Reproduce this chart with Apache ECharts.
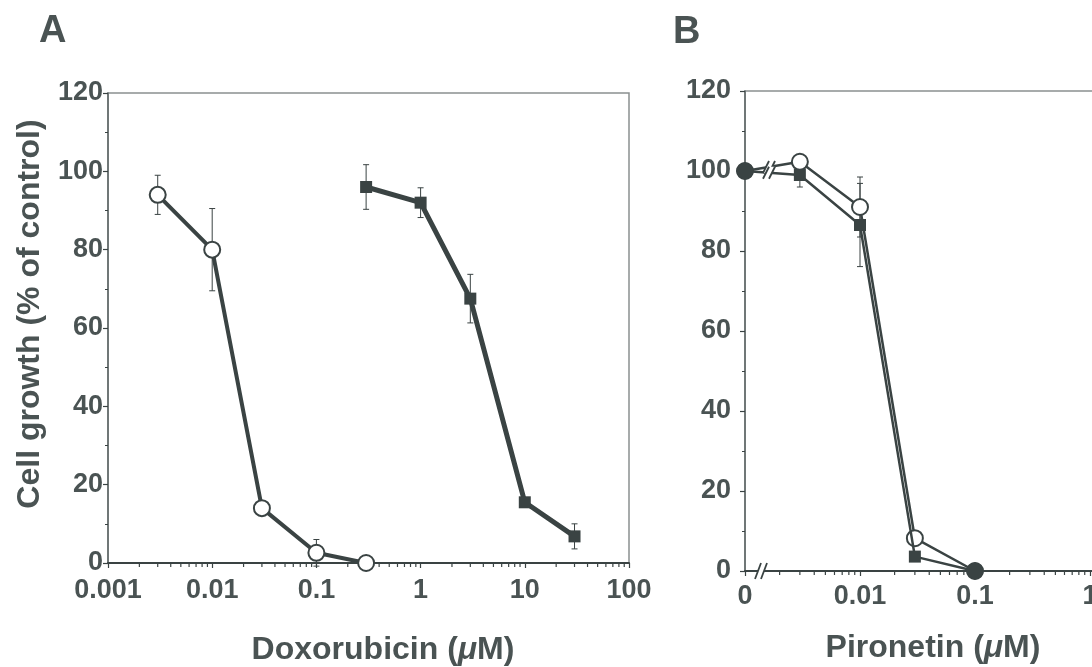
<!DOCTYPE html>
<html><head><meta charset="utf-8">
<script src="https://cdn.jsdelivr.net/npm/echarts@6/dist/echarts.min.js"></script>
<style>html,body{margin:0;padding:0;background:#fff}#c{width:1092px;height:667px}</style>
</head><body><div id="c"></div>
<script>
// ---- Panel A: Doxorubicin ----
const doxSensConc = [0.003, 0.01, 0.03, 0.1, 0.3];
const doxSens = [94, 80, 14, 2.6, 0];
const doxSensErr = [5, 10.5, 0, 3.4, 0];
const doxResConc = [0.3, 1, 3, 10, 30];
const doxRes = [96, 92, 67.5, 15.5, 6.8];
const doxResErr = [5.7, 3.8, 6.2, 1, 3.2];
// ---- Panel B: Pironetin ----
const pirConc = [0, 0.003, 0.01, 0.03, 0.1];
const pirSens = [100, 102.3, 91, 8.2, 0];
const pirSensErr = [0, 0, 7.5, 0, 0];
const pirRes = [100, 99, 86.5, 3.6, 0];
const pirResErr = [0, 3, 10.4, 0, 0];
// ---- tick labels ----
const yTickLabels = ['0', '20', '40', '60', '80', '100', '120'];
const doxTickLabels = ['0.001', '0.01', '0.1', '1', '10', '100'];
const pirTickLabels = ['0', '0.01', '0.1', '1', '10'];

const COL = '#3a4343';
const TXT = '#4a5353';
const FONT = '"Liberation Sans", Arial, Helvetica, sans-serif';
const PIR_ZERO = 0.001; // position where "0" is drawn on the broken log axis

const chart = echarts.init(document.getElementById('c'), null, {renderer: 'canvas'});

function logLabel(labels) {
  return v => {
    const i = Math.round(Math.log10(v)) + 3;
    return labels[i] !== undefined ? labels[i] : '';
  };
}
function minorTickVals(lo, hi) {
  const out = [];
  for (let d = lo; d < hi; d++) for (let k = 2; k <= 9; k++) out.push([k * Math.pow(10, d)]);
  return out;
}
function minorRender(params, api) {
  const p = api.coord([api.value(0), 0]);
  return {type: 'line', shape: {x1: p[0], y1: p[1], x2: p[0], y2: p[1] + 4}, style: {stroke: COL, lineWidth: 1.2}};
}
function errRender(params, api) {
  const x = api.value(0), y = api.value(1), e = api.value(2);
  if (!e) return null;
  const t = api.coord([x, y + e]), b = api.coord([x, y - e]);
  const c = 3;
  const st = {stroke: COL, lineWidth: 1};
  return {type: 'group', children: [
    {type: 'line', shape: {x1: t[0], y1: t[1], x2: b[0], y2: b[1]}, style: st},
    {type: 'line', shape: {x1: t[0] - c, y1: t[1], x2: t[0] + c, y2: t[1]}, style: st},
    {type: 'line', shape: {x1: b[0] - c, y1: b[1], x2: b[0] + c, y2: b[1]}, style: st}
  ]};
}
function breakMark(cx, cy, h) {
  const s = 3; // slant
  return [
    {type: 'polygon', shape: {points: [[cx - 3 + s, cy - h / 2], [cx + 3 + s, cy - h / 2], [cx + 3 - s, cy + h / 2], [cx - 3 - s, cy + h / 2]]}, style: {fill: '#fff'}},
    {type: 'line', shape: {x1: cx - 3 + s, y1: cy - h / 2, x2: cx - 3 - s, y2: cy + h / 2}, style: {stroke: COL, lineWidth: 1.8}},
    {type: 'line', shape: {x1: cx + 3 + s, y1: cy - h / 2, x2: cx + 3 - s, y2: cy + h / 2}, style: {stroke: COL, lineWidth: 1.8}}
  ];
}
function breakRender(params, api) {
  const children = [];
  const a0 = api.coord([PIR_ZERO, 0]);
  children.push(...breakMark(a0[0] + 16, a0[1], 16));
  [[pirSens[0], pirSens[1]], [pirRes[0], pirRes[1]]].forEach(([y0, y1]) => {
    const p0 = api.coord([PIR_ZERO, y0]), p1 = api.coord([pirConc[1], y1]);
    const x = p0[0] + 24;
    const f = (x - p0[0]) / (p1[0] - p0[0]);
    const y = p0[1] + f * (p1[1] - p0[1]);
    children.push(...breakMark(x, y, 12));
  });
  return {type: 'group', children};
}

const axisLabelStyle = {color: TXT, fontFamily: FONT, fontWeight: 'bold', fontSize: 27};

function yAxis(gridIndex, margin) {
  return {
    type: 'value', gridIndex, min: 0, max: 120, interval: 20,
    axisLine: {show: true, lineStyle: {color: '#5e6666', width: 1.5}},
    axisTick: {show: true, length: 5, lineStyle: {color: COL, width: 1.2}},
    minorTick: {show: true, splitNumber: 2, length: 3, lineStyle: {color: COL, width: 1}},
    splitLine: {show: false},
    axisLabel: Object.assign({margin, formatter: v => yTickLabels[v / 20]}, axisLabelStyle)
  };
}
function xAxis(gridIndex, min, max, labels, margin) {
  return {
    type: 'log', logBase: 10, gridIndex, min, max,
    axisLine: {show: true, onZero: false, lineStyle: {color: COL, width: 2}},
    axisTick: {show: true, length: 5, lineStyle: {color: COL, width: 1.2}},
    splitLine: {show: false},
    minorSplitLine: {show: false},
    axisLabel: Object.assign({margin, formatter: logLabel(labels), showMinLabel: true, showMaxLabel: true}, axisLabelStyle)
  };
}

function lineSeries(xi, yi, xs, ys, open, lw, symFn, sizeFn) {
  return {
    type: 'line', xAxisIndex: xi, yAxisIndex: yi,
    data: xs.map((x, i) => [x, ys[i]]),
    symbol: symFn || (open ? 'circle' : 'rect'),
    symbolSize: sizeFn || (open ? 16 : 12),
    showSymbol: true,
    lineStyle: {color: COL, width: lw},
    itemStyle: open ? {color: '#fff', borderColor: COL, borderWidth: 2} : {color: COL, borderColor: COL, borderWidth: 0},
    z: open ? 3 : 4,
    emphasis: {disabled: true},
    silent: true
  };
}
function errSeries(xi, yi, xs, ys, es) {
  return {
    type: 'custom', xAxisIndex: xi, yAxisIndex: yi, z: 2, silent: true,
    renderItem: errRender,
    data: xs.map((x, i) => [x, ys[i], es[i]])
  };
}

const pirX = pirConc.map(c => c === 0 ? PIR_ZERO : c);
const lastIdx = pirConc.length - 1;

const option = {
  animation: false,
  backgroundColor: '#fff',
  grid: [
    {left: 108, top: 93, width: 521, height: 470, show: true, borderColor: '#8a9090', borderWidth: 1.5, containLabel: false, outerBoundsMode: 'none'},
    {left: 745, top: 91, width: 460, height: 480, show: true, borderColor: '#8a9090', borderWidth: 1.5, containLabel: false, outerBoundsMode: 'none'}
  ],
  xAxis: [xAxis(0, 0.001, 100, doxTickLabels, 14), xAxis(1, 0.001, 10, pirTickLabels, 12)],
  yAxis: [yAxis(0, 5), yAxis(1, 14)],
  graphic: [
    {type: 'text', left: 39, top: 13, style: {text: 'A', font: 'bold 38px ' + FONT, fill: TXT}},
    {type: 'text', left: 673, top: 14, style: {text: 'B', font: 'bold 38px ' + FONT, fill: TXT}},
    {type: 'text', x: 383, y: 650, style: {text: '{n|Doxorubicin (}{i|μ}{n|M)}', align: 'center', verticalAlign: 'middle',
      rich: {n: {font: 'bold 32px ' + FONT, fill: TXT}, i: {font: 'italic bold 32px ' + FONT, fill: TXT}}}},
    {type: 'text', x: 933, y: 648, style: {text: '{n|Pironetin (}{i|μ}{n|M)}', align: 'center', verticalAlign: 'middle',
      rich: {n: {font: 'bold 32px ' + FONT, fill: TXT}, i: {font: 'italic bold 32px ' + FONT, fill: TXT}}}},
    {type: 'text', x: 30, y: 314, rotation: Math.PI / 2, style: {text: 'Cell growth (% of control)', align: 'center', verticalAlign: 'middle',
      font: 'bold 32px ' + FONT, fill: TXT}}
  ],
  series: [
    {type: 'custom', xAxisIndex: 0, yAxisIndex: 0, renderItem: minorRender, data: minorTickVals(-3, 2), silent: true, z: 1},
    {type: 'custom', xAxisIndex: 1, yAxisIndex: 1, renderItem: minorRender, data: minorTickVals(-3, 1), silent: true, z: 1},
    errSeries(0, 0, doxSensConc, doxSens, doxSensErr),
    errSeries(0, 0, doxResConc, doxRes, doxResErr),
    lineSeries(0, 0, doxSensConc, doxSens, true, 4),
    lineSeries(0, 0, doxResConc, doxRes, false, 5),
    errSeries(1, 1, pirX, pirSens, pirSensErr),
    errSeries(1, 1, pirX, pirRes, pirResErr),
    lineSeries(1, 1, pirX, pirSens, true, 2.5),
    lineSeries(1, 1, pirX, pirRes, false, 2.5,
      (v, p) => (p.dataIndex === 0 || p.dataIndex === lastIdx) ? 'circle' : 'rect',
      (v, p) => (p.dataIndex === 0 || p.dataIndex === lastIdx) ? 17 : 12),
    {type: 'custom', xAxisIndex: 1, yAxisIndex: 1, renderItem: breakRender, data: [[PIR_ZERO, 0]], silent: true, z: 6, clip: false}
  ]
};
chart.setOption(option);
</script>
</body></html>
